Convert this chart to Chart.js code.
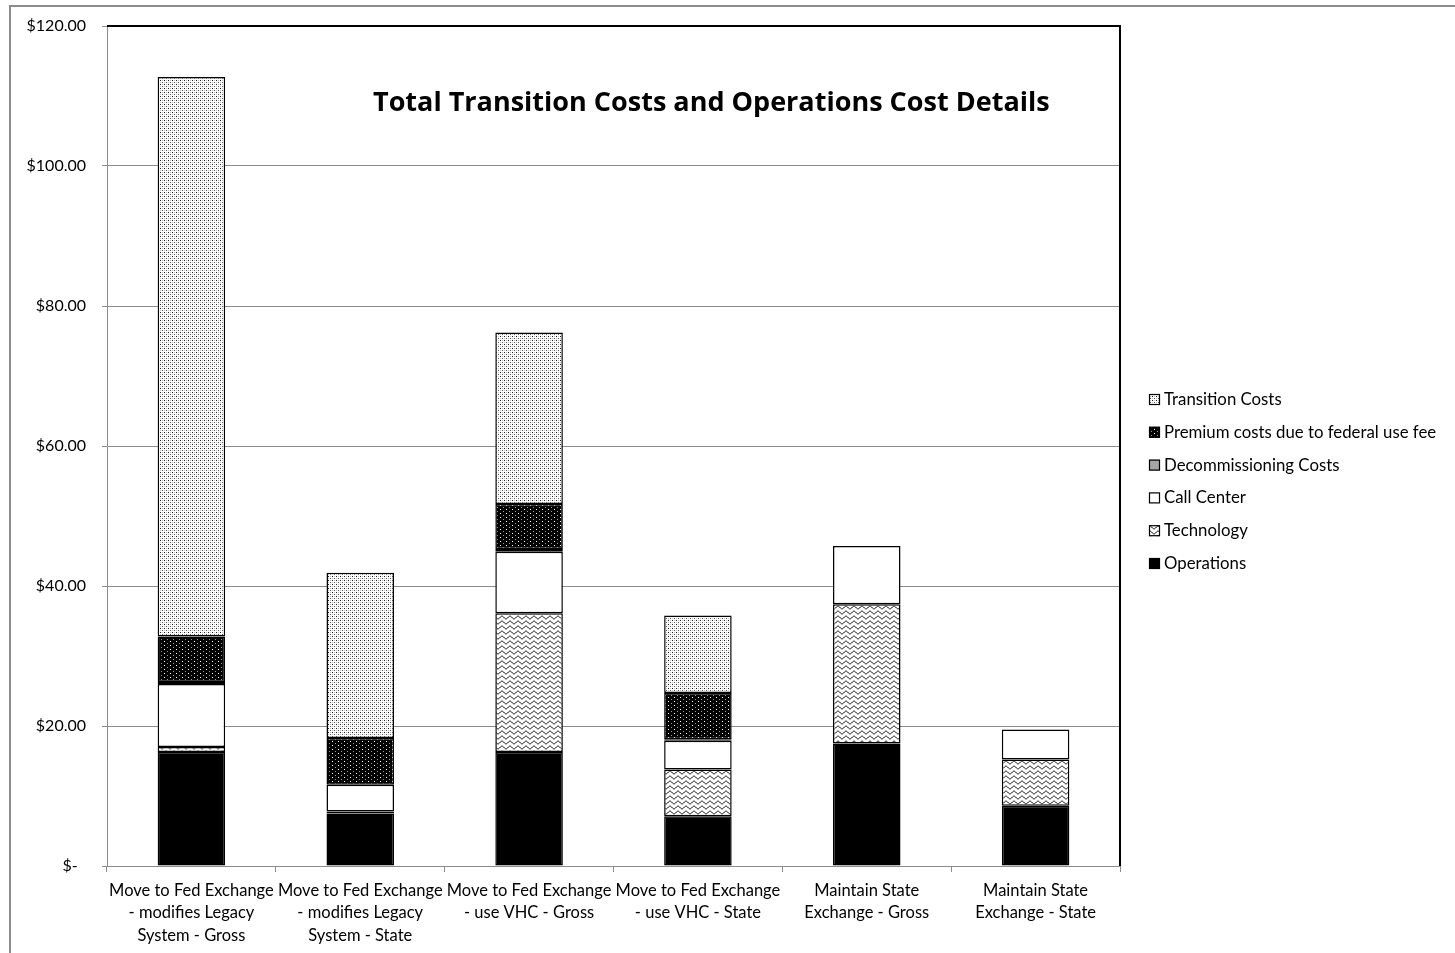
<!DOCTYPE html>
<html>
<head>
<meta charset="utf-8">
<title>Total Transition Costs and Operations Cost Details</title>
<script src="https://cdn.jsdelivr.net/npm/chart.js@4/dist/chart.umd.min.js"></script>
<style>
  html, body { margin: 0; padding: 0; background: #ffffff; }
  #wrap { position: relative; width: 1455px; height: 953px; }
</style>
</head>
<body>
<div id="wrap"><canvas id="chart"></canvas></div>
<script>
// Scenario labels (one row per printed line)
const categories = [
  ['Move to Fed Exchange', '- modifies Legacy', 'System - Gross'],
  ['Move to Fed Exchange', '- modifies Legacy', 'System - State'],
  ['Move to Fed Exchange', '- use VHC - Gross'],
  ['Move to Fed Exchange', '- use VHC - State'],
  ['Maintain State', 'Exchange - Gross'],
  ['Maintain State', 'Exchange - State']
];

// Cost components, $ millions, stacked bottom to top
const operations      = [16.3, 7.5, 16.3, 7.1, 17.5, 8.6];
const technology      = [0.7, 0.3, 19.8, 6.7, 19.9, 6.6];
const callCenter      = [9.0, 3.8, 8.8, 4.1, 8.3, 4.3];
const decommissioning = [0.3, null, 0.4, 0.2, null, null];
const premiumCosts    = [6.5, 6.7, 6.4, 6.6, null, null];
const transitionCosts = [79.9, 23.6, 24.5, 11.1, null, null];

// Value axis
const yMin = 0;
const yMax = 120;
const yStep = 20;

const chartTitle = 'Total Transition Costs and Operations Cost Details';
const FONT = 'Lato';
const TITLE_FONT = '"Open Sans"';

const canvas = document.getElementById('chart');
const ctx = canvas.getContext('2d');

function tile(w, h, paint) {
  const c = document.createElement('canvas');
  c.width = w; c.height = h;
  const g = c.getContext('2d');
  paint(g, w, h);
  return ctx.createPattern(c, 'repeat');
}

// Fine dotted fill
const dottedFill = tile(4, 4, (g, w, h) => {
  g.fillStyle = '#ffffff'; g.fillRect(0, 0, w, h);
  g.fillStyle = '#1e1e1e'; g.fillRect(0, 0, 1, 1);
  g.fillStyle = '#5a5a5a'; g.fillRect(2, 2, 1, 1);
  g.fillStyle = '#c4c4c4'; g.fillRect(2, 0, 1, 1);
  g.fillStyle = '#c4c4c4'; g.fillRect(0, 2, 1, 1);
});

// Black fill with white dots
const darkDotFill = tile(6, 4, (g, w, h) => {
  g.fillStyle = '#000000'; g.fillRect(0, 0, w, h);
  g.fillStyle = '#ffffff'; g.fillRect(2, 1, 1, 1);
  g.fillStyle = '#9a9a9a'; g.fillRect(5, 3, 1, 1);
});

// Wavy lines fill
const waveFill = tile(8, 5, (g, w, h) => {
  g.fillStyle = '#ffffff'; g.fillRect(0, 0, w, h);
  g.strokeStyle = '#000000';
  g.lineWidth = 1;
  g.beginPath();
  for (let x = -1; x <= w + 1; x += 0.5) {
    const y = 2.5 + 1.4 * Math.sin((x / w) * Math.PI * 2);
    if (x === -1) g.moveTo(x, y); else g.lineTo(x, y);
  }
  g.stroke();
});

const seriesStyle = { borderColor: '#000000', borderWidth: 1.5, borderSkipped: false };

const datasets = [
  { label: 'Operations', data: operations, backgroundColor: '#000000', ...seriesStyle },
  { label: 'Technology', data: technology, backgroundColor: waveFill, ...seriesStyle },
  { label: 'Call Center', data: callCenter, backgroundColor: '#ffffff', ...seriesStyle },
  { label: 'Decommissioning Costs', data: decommissioning, backgroundColor: '#a6a6a6', ...seriesStyle },
  { label: 'Premium costs due to federal use fee', data: premiumCosts, backgroundColor: darkDotFill, ...seriesStyle },
  { label: 'Transition Costs', data: transitionCosts, backgroundColor: dottedFill, ...seriesStyle }
];

// Outer chart frame and the black top/right plot border
const framePlugin = {
  id: 'frame',
  beforeDraw(chart) {
    const g = chart.ctx;
    g.save();
    g.fillStyle = '#ffffff';
    g.fillRect(0, 0, chart.width, chart.height);
    g.strokeStyle = '#8c8c8c';
    g.lineWidth = 2;
    g.beginPath();
    g.moveTo(10, chart.height + 2);
    g.lineTo(10, 6);
    g.lineTo(chart.width + 2, 6);
    g.stroke();
    g.restore();
  },
  beforeDatasetsDraw(chart) {
    const a = chart.chartArea;
    const g = chart.ctx;
    g.save();
    g.strokeStyle = '#000000';
    g.lineWidth = 2;
    g.beginPath();
    g.moveTo(a.left, a.top);
    g.lineTo(a.right, a.top);
    g.lineTo(a.right, a.bottom);
    g.stroke();
    g.restore();
  }
};

// Title placed inside the plot area, sized to its printed width
const titlePlugin = {
  id: 'innerTitle',
  afterDraw(chart) {
    const g = chart.ctx;
    g.save();
    g.fillStyle = '#000000';
    g.textAlign = 'left';
    g.textBaseline = 'alphabetic';
    let size = 22;
    g.font = `bold ${size}px ${TITLE_FONT}`;
    const w = g.measureText(chartTitle).width;
    size = size * 677 / w;
    g.font = `bold ${size}px ${TITLE_FONT}`;
    g.fillText(chartTitle, 373, 111);
    g.restore();
  }
};

// Legend to the right of the plot, top series first
const legendPlugin = {
  id: 'sideLegend',
  afterDraw(chart) {
    const g = chart.ctx;
    const items = chart.data.datasets.slice().reverse();
    g.save();
    g.font = `16.8px ${FONT}`;
    g.textAlign = 'left';
    g.textBaseline = 'middle';
    items.forEach((ds, i) => {
      const yc = 399.5 + i * 32.8;
      g.fillStyle = ds.backgroundColor;
      g.fillRect(1149, yc - 5.5, 11, 11);
      g.strokeStyle = '#000000';
      g.lineWidth = 1.2;
      g.strokeRect(1149.5, yc - 5, 10, 10);
      g.fillStyle = '#000000';
      g.fillText(ds.label, 1164, yc);
    });
    g.restore();
  }
};

new Chart(canvas, {
  type: 'bar',
  data: { labels: categories, datasets },
  plugins: [framePlugin, titlePlugin, legendPlugin],
  options: {
    responsive: true,
    maintainAspectRatio: false,
    animation: false,
    layout: { padding: { left: 10, top: 26, right: 335, bottom: 0 } },
    datasets: { bar: { categoryPercentage: 1.0, barPercentage: 0.4 } },
    plugins: { legend: { display: false }, tooltip: { enabled: false } },
    scales: {
      x: {
        stacked: true,
        grid: { offset: true, drawOnChartArea: false, drawTicks: true, tickLength: 6, color: '#8c8c8c', lineWidth: 1 },
        border: { color: '#8c8c8c', width: 1 },
        ticks: {
          color: '#000000',
          font: { family: FONT, size: 16.5, lineHeight: 1.37 },
          padding: 7,
          maxRotation: 0,
          autoSkip: false
        },
        afterFit(scale) { scale.height = 87; }
      },
      y: {
        stacked: true,
        min: yMin,
        max: yMax,
        grid: {
          color: (c) => (c.tick && c.tick.value === yMax ? 'rgba(0,0,0,0)' : '#8c8c8c'),
          tickColor: '#8c8c8c',
          tickLength: 5,
          lineWidth: 1
        },
        border: { color: '#8c8c8c', width: 1 },
        ticks: {
          stepSize: yStep,
          color: '#000000',
          font: { family: FONT, size: 16 },
          padding: 16,
          callback: (v) => (v === 0 ? '$-  ' : '$' + Number(v).toFixed(2))
        },
        afterFit(scale) { scale.width = 97; }
      }
    }
  }
});
</script>
</body>
</html>
